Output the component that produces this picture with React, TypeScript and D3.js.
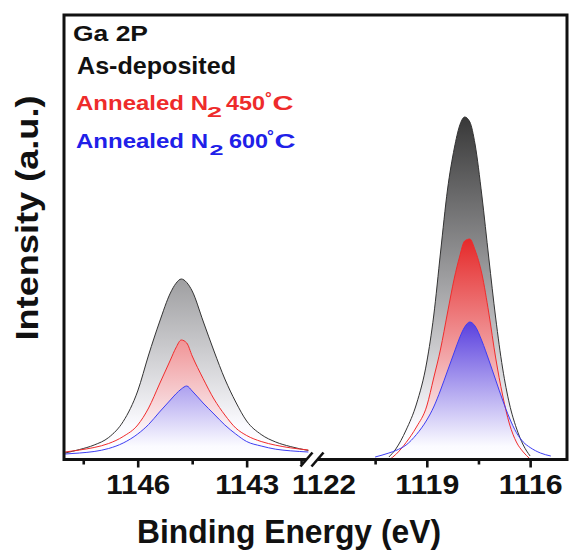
import React, { useEffect, useRef } from 'react';
import * as d3 from 'd3';

// Ga 2p1/2 window (higher binding energy side of the break), eV
const energyHigh = [1148.0, 1147.6, 1147.2, 1146.8, 1146.4, 1146.0, 1145.7, 1145.4, 1145.1, 1144.95, 1144.8, 1144.65, 1144.5, 1144.2, 1143.9, 1143.6, 1143.3, 1143.0, 1142.6, 1142.2, 1141.8, 1141.3];
const asDepositedHigh = [70, 105, 150, 225, 385, 690, 1050, 1380, 1670, 1765, 1810, 1775, 1690, 1390, 1090, 810, 580, 390, 255, 180, 135, 95];
const n450High = [80, 100, 125, 165, 235, 350, 520, 760, 1000, 1120, 1200, 1170, 1040, 815, 610, 450, 320, 245, 185, 148, 122, 100];
const n600High = [60, 70, 85, 115, 170, 260, 355, 480, 600, 660, 710, 740, 690, 570, 460, 350, 260, 185, 140, 108, 92, 80];

// Ga 2p3/2 window (lower binding energy side of the break), eV
const energyLow = [1120.5, 1120.1, 1119.9, 1119.6, 1119.3, 1119.0, 1118.8, 1118.6, 1118.4, 1118.2, 1118.05, 1117.9, 1117.75, 1117.6, 1117.4, 1117.2, 1117.0, 1116.8, 1116.6, 1116.4, 1116.2, 1116.0, 1115.7, 1115.4];
const asDepositedLow = [null, 30, 110, 300, 560, 980, 1440, 2080, 2700, 3120, 3340, 3430, 3380, 3160, 2640, 2020, 1420, 920, 560, 320, 150, 40, null, null];
const n450Low = [null, 0, 55, 175, 330, 540, 820, 1110, 1470, 1820, 2030, 2190, 2210, 2100, 1860, 1470, 1020, 650, 360, 180, 80, 10, null, null];
const n600Low = [30, 70, 95, 150, 255, 400, 530, 700, 890, 1080, 1220, 1330, 1380, 1340, 1190, 1000, 800, 600, 420, 275, 180, 125, 70, 40];

const majorTicksHigh = [1146, 1143];
const minorTicksHigh = [1147.5, 1144.5, 1141.5];
const majorTicksLow = [1119, 1116];
const minorTicksLow = [1120.5, 1117.5];
const breakTickLabel = [1122];

const FONT = 'Liberation Sans, Arial, Helvetica, sans-serif';

type Pt = { e: number; v: number | null };

const W = 569;
const H = 552;
const LEFT = 64;
const RIGHT = 567;
const TOP = 15;
const AXIS_Y = 459.5;

export default function App() {
  const axisRef = useRef<SVGGElement>(null);

  const xHigh = d3.scaleLinear().domain([1148.03, 1141.2]).range([LEFT, 312]);
  const xLow = d3.scaleLinear().domain([1122.1, 1114.93]).range([320, RIGHT]);
  const y = d3.scaleLinear().domain([0, 4450]).range([460, TOP]);

  const series = [
    { key: 'dep', high: asDepositedHigh, low: asDepositedLow, stroke: '#333333', top: '#383838' },
    { key: 'n450', high: n450High, low: n450Low, stroke: '#f02c2c', top: '#e52a2a' },
    { key: 'n600', high: n600High, low: n600Low, stroke: '#3d3df2', top: '#5a40de' },
  ];

  const toPts = (es: number[], vs: (number | null)[]): Pt[] => es.map((e, i) => ({ e, v: vs[i] }));

  const makeLine = (x: d3.ScaleLinear<number, number>) =>
    d3.line<Pt>().defined((d) => d.v != null).x((d) => x(d.e)).y((d) => y(d.v as number)).curve(d3.curveMonotoneX);
  const makeArea = (x: d3.ScaleLinear<number, number>) =>
    d3.area<Pt>().defined((d) => d.v != null).x((d) => x(d.e)).y0(y(0)).y1((d) => y(d.v as number)).curve(d3.curveMonotoneX);

  const lineHigh = makeLine(xHigh);
  const lineLow = makeLine(xLow);
  const areaHigh = makeArea(xHigh);
  const areaLow = makeArea(xLow);

  useEffect(() => {
    const g = d3.select(axisRef.current);
    g.selectAll('*').remove();
    const draw = (scale: d3.ScaleLinear<number, number>, values: number[], size: number, labels: boolean, lineOn = true) => {
      const axis = d3
        .axisBottom(scale)
        .tickValues(values)
        .tickSize(size)
        .tickSizeOuter(0)
        .tickFormat(labels ? (d3.format('d') as any) : () => '');
      const sel = g.append('g').attr('transform', `translate(0, ${AXIS_Y + 1})`).call(axis as any);
      sel.select('.domain').remove();
      sel.selectAll('line').attr('stroke', lineOn ? '#111' : 'none').attr('stroke-width', 2.6);
      sel
        .selectAll('text')
        .attr('y', 33)
        .attr('dy', 0)
        .attr('fill', '#111')
        .attr('font-family', FONT)
        .attr('font-weight', 'bold')
        .attr('font-size', 27)
        .attr('textLength', labels ? 64 : null)
        .attr('lengthAdjust', 'spacingAndGlyphs');
    };
    draw(xHigh, minorTicksHigh, 4, false);
    draw(xHigh, majorTicksHigh, 7, true);
    draw(xLow, minorTicksLow, 4, false);
    draw(xLow, majorTicksLow, 7, true);
    draw(xLow, breakTickLabel, 0, true, false);
  }, []);

  const breakLeft = 306.5;
  const breakRight = 317.5;

  return (
    <svg width={W} height={H} style={{ position: 'absolute', left: 0, top: 0, background: '#fff' }}>
      <defs>
        {series.map((s) => {
          const max = d3.max([...s.high, ...s.low].filter((v) => v != null) as number[]) as number;
          return (
            <linearGradient key={s.key} id={`grad-${s.key}`} gradientUnits="userSpaceOnUse" x1={0} x2={0} y1={y(max)} y2={y(0)}>
              <stop offset="0" stopColor={s.top} />
              <stop offset="0.9" stopColor="#fbfbff" />
              <stop offset="1" stopColor="#ffffff" />
            </linearGradient>
          );
        })}
        <clipPath id="plot-clip">
          <rect x={LEFT} y={TOP} width={RIGHT - LEFT} height={AXIS_Y - TOP} />
        </clipPath>
      </defs>

      <g clipPath="url(#plot-clip)">
        {series.map((s) => (
          <g key={`a-${s.key}`}>
            <path d={areaHigh(toPts(energyHigh, s.high)) || ''} fill={`url(#grad-${s.key})`} />
            <path d={areaLow(toPts(energyLow, s.low)) || ''} fill={`url(#grad-${s.key})`} />
          </g>
        ))}
        {series.map((s) => (
          <g key={`l-${s.key}`} fill="none" stroke={s.stroke} strokeWidth={1}>
            <path d={lineHigh(toPts(energyHigh, s.high)) || ''} />
            <path d={lineLow(toPts(energyLow, s.low)) || ''} />
          </g>
        ))}
      </g>

      {/* frame with a gap in the bottom axis for the break */}
      <path
        d={`M${breakLeft},${AXIS_Y} H${LEFT} V${TOP} H${RIGHT} V${AXIS_Y} H${breakRight}`}
        fill="none"
        stroke="#111"
        strokeWidth={3}
      />
      <g stroke="#111" strokeWidth={2.6}>
        <line x1={breakLeft - 6} y1={AXIS_Y + 7} x2={breakLeft + 6} y2={AXIS_Y - 7} />
        <line x1={breakRight - 6} y1={AXIS_Y + 7} x2={breakRight + 6} y2={AXIS_Y - 7} />
      </g>

      <g ref={axisRef} />

      {/* legend */}
      <g fontFamily={FONT} fontWeight="bold">
        <text x={73} y={41} fontSize={22} fill="#111" textLength={75} lengthAdjust="spacingAndGlyphs">Ga 2P</text>
        <text x={77} y={73.5} fontSize={23} fill="#111" textLength={159} lengthAdjust="spacingAndGlyphs">As-deposited</text>

        <g fill="#ee2b2b">
          <text x={76} y={110} fontSize={21} textLength={132} lengthAdjust="spacingAndGlyphs">Annealed N</text>
          <text x={207} y={117} fontSize={15} textLength={15} lengthAdjust="spacingAndGlyphs">2</text>
          <text x={226} y={110} fontSize={21} textLength={39} lengthAdjust="spacingAndGlyphs">450</text>
          <text x={265} y={104} fontSize={17}>°</text>
          <text x={272.5} y={110} fontSize={21} textLength={21} lengthAdjust="spacingAndGlyphs">C</text>
        </g>

        <g fill="#2020e8">
          <text x={76} y={148} fontSize={21} textLength={132} lengthAdjust="spacingAndGlyphs">Annealed N</text>
          <text x={209.5} y={155} fontSize={15} textLength={14} lengthAdjust="spacingAndGlyphs">2</text>
          <text x={229} y={148} fontSize={21} textLength={39} lengthAdjust="spacingAndGlyphs">600</text>
          <text x={267} y={142} fontSize={17}>°</text>
          <text x={274.5} y={148} fontSize={21} textLength={21} lengthAdjust="spacingAndGlyphs">C</text>
        </g>
      </g>

      {/* axis titles */}
      <text
        transform="translate(38, 218) rotate(-90)"
        textAnchor="middle"
        fontFamily={FONT}
        fontWeight="bold"
        fontSize={32}
        fill="#111"
        textLength={245}
        lengthAdjust="spacingAndGlyphs"
      >
        Intensity (a.u.)
      </text>
      <text
        x={137}
        y={543}
        fontFamily={FONT}
        fontWeight="bold"
        fontSize={33}
        fill="#111"
        textLength={304}
        lengthAdjust="spacingAndGlyphs"
      >
        Binding Energy (eV)
      </text>
    </svg>
  );
}
